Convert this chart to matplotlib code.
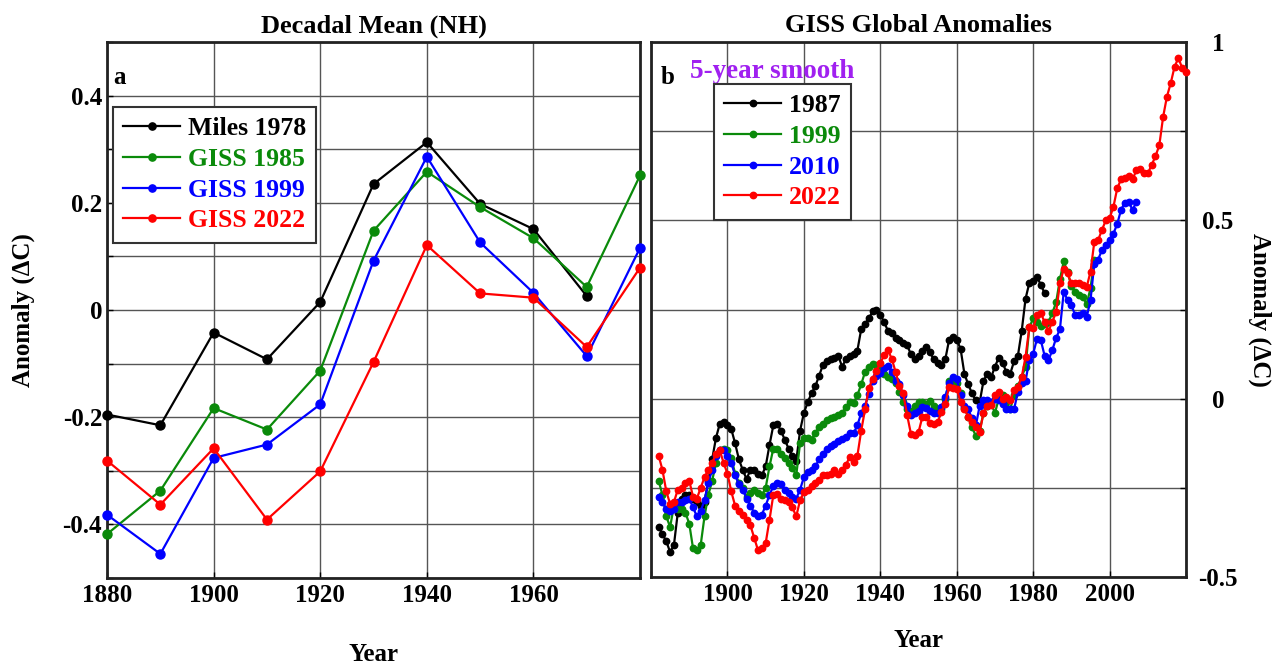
import matplotlib
matplotlib.use("Agg")
import matplotlib.pyplot as plt
from matplotlib.ticker import MultipleLocator
import numpy as np

plt.rcParams['font.family'] = ['Liberation Serif', 'DejaVu Serif']
plt.rcParams['font.weight'] = 'bold'

# panel a: decadal means (NH)
decades = [1880, 1890, 1900, 1910, 1920, 1930, 1940, 1950, 1960, 1970, 1980]
miles_1978 = [-0.195, -0.215, -0.042, -0.092, 0.015, 0.235, 0.313, 0.198, 0.151, 0.026]
giss_1985 = [-0.418, -0.337, -0.183, -0.223, -0.113, 0.148, 0.258, 0.192, 0.134, 0.043, 0.251]
giss_1999 = [-0.382, -0.455, -0.276, -0.251, -0.176, 0.092, 0.286, 0.126, 0.032, -0.086, 0.116]
giss_2022 = [-0.281, -0.363, -0.258, -0.391, -0.301, -0.097, 0.121, 0.031, 0.023, -0.069, 0.079]

# panel b: 5-year smoothed global anomalies, one value per year
start_1987 = 1882
v1987 = [
    -0.36, -0.38, -0.40, -0.43, -0.41, -0.32, -0.28, -0.27,  # 1882-1889
    -0.27, -0.28, -0.29, -0.30, -0.29, -0.23, -0.17, -0.11, -0.07, -0.065,  # 1890s
    -0.075, -0.085, -0.125, -0.17, -0.20, -0.225, -0.20, -0.20, -0.21, -0.215,  # 1900s
    -0.19, -0.13, -0.075, -0.07, -0.09, -0.115, -0.14, -0.16, -0.175, -0.09,  # 1910s
    -0.04, -0.01, 0.015, 0.035, 0.065, 0.095, 0.105, 0.11, 0.115, 0.12,  # 1920s
    0.09, 0.11, 0.12, 0.125, 0.135, 0.195, 0.21, 0.225, 0.245, 0.25,  # 1930s
    0.235, 0.215, 0.19, 0.185, 0.17, 0.165, 0.155, 0.15, 0.125, 0.11,  # 1940s
    0.12, 0.135, 0.145, 0.13, 0.11, 0.10, 0.095, 0.11, 0.165, 0.172,  # 1950s
    0.165, 0.14, 0.07, 0.04, 0.015, -0.005, -0.01, 0.05, 0.07, 0.06,  # 1960s
    0.09, 0.115, 0.10, 0.075, 0.07, 0.105, 0.12, 0.19, 0.28, 0.325,  # 1970s
    0.33, 0.34, 0.32, 0.295,  # 1980-1983
]
start_1999 = 1882
v1999 = [
    -0.23, -0.27, -0.33, -0.36, -0.30, -0.31, -0.31, -0.32,  # 1882-1889
    -0.35, -0.42, -0.425, -0.41, -0.33, -0.27, -0.23, -0.18, -0.145, -0.14,  # 1890s
    -0.145, -0.165, -0.21, -0.235, -0.25, -0.275, -0.265, -0.255, -0.265, -0.27,  # 1900s
    -0.25, -0.19, -0.14, -0.14, -0.155, -0.165, -0.18, -0.195, -0.215, -0.125,  # 1910s
    -0.11, -0.11, -0.115, -0.095, -0.08, -0.07, -0.06, -0.055, -0.05, -0.047,  # 1920s
    -0.04, -0.023, -0.01, -0.012, 0.01, 0.04, 0.075, 0.088, 0.097, 0.095,  # 1930s
    0.085, 0.068, 0.06, 0.055, 0.045, 0.02, -0.01, -0.03, -0.035, -0.02,  # 1940s
    -0.01, -0.01, -0.014, -0.006, -0.02, -0.03, -0.028, 0.0, 0.05, 0.05,  # 1950s
    0.045, 0.015, -0.025, -0.05, -0.08, -0.105, -0.09, -0.04, -0.02, -0.015,  # 1960s
    -0.04, 0.0, 0.01, -0.01, -0.03, 0.01, 0.035, 0.06, 0.09, 0.20,  # 1970s
    0.225, 0.215, 0.205, 0.21, 0.215, 0.24, 0.27, 0.335, 0.385, 0.355,  # 1980s
    0.315, 0.30, 0.29, 0.285, 0.265, 0.31, 0.39,  # 1990-1996
]
start_2010 = 1882
v2010 = [
    -0.275, -0.29, -0.31, -0.315, -0.31, -0.29, -0.29, -0.285,  # 1882-1889
    -0.28, -0.305, -0.33, -0.315, -0.285, -0.235, -0.20, -0.16, -0.145, -0.145,  # 1890s
    -0.16, -0.18, -0.215, -0.24, -0.255, -0.28, -0.30, -0.32, -0.33, -0.325,  # 1900s
    -0.30, -0.27, -0.245, -0.235, -0.24, -0.255, -0.265, -0.275, -0.28, -0.255,  # 1910s
    -0.22, -0.205, -0.20, -0.19, -0.17, -0.155, -0.14, -0.133, -0.126, -0.118,  # 1920s
    -0.113, -0.108, -0.095, -0.097, -0.075, -0.04, -0.02, 0.014, 0.05, 0.065,  # 1930s
    0.073, 0.085, 0.093, 0.075, 0.05, 0.04, 0.01, -0.02, -0.045, -0.04,  # 1940s
    -0.035, -0.023, -0.027, -0.035, -0.04, -0.04, -0.023, 0.005, 0.045, 0.06,  # 1950s
    0.056, 0.01, -0.02, -0.03, -0.055, -0.075, -0.02, -0.005, -0.005, -0.01,  # 1960s
    0.0, -0.005, -0.015, -0.028, -0.028, -0.03, 0.02, 0.045, 0.05, 0.108,  # 1970s
    0.126, 0.168, 0.164, 0.12, 0.108, 0.136, 0.17, 0.195, 0.30, 0.276,  # 1980s
    0.262, 0.234, 0.234, 0.239, 0.229, 0.276, 0.379, 0.39, 0.417, 0.43,  # 1990s
    0.445, 0.463, 0.49, 0.53, 0.55, 0.552, 0.529, 0.552,  # 2000-2007
]
start_2022 = 1882
v2022 = [
    -0.16, -0.20, -0.26, -0.295, -0.29, -0.255, -0.25, -0.235,  # 1882-1889
    -0.23, -0.275, -0.28, -0.25, -0.22, -0.20, -0.18, -0.155, -0.145, -0.18,  # 1890s
    -0.21, -0.26, -0.30, -0.315, -0.325, -0.34, -0.355, -0.39, -0.425, -0.42,  # 1900s
    -0.405, -0.34, -0.27, -0.267, -0.28, -0.285, -0.29, -0.305, -0.33, -0.285,  # 1910s
    -0.262, -0.257, -0.245, -0.235, -0.228, -0.215, -0.215, -0.21, -0.20, -0.21,  # 1920s
    -0.20, -0.185, -0.164, -0.178, -0.16, -0.09, -0.03, 0.03, 0.055, 0.078,  # 1930s
    0.10, 0.122, 0.136, 0.112, 0.075, 0.035, 0.015, -0.045, -0.098, -0.103,  # 1940s
    -0.094, -0.051, -0.051, -0.068, -0.07, -0.066, -0.037, -0.014, 0.033, 0.03,  # 1950s
    0.028, -0.01, -0.03, -0.05, -0.065, -0.08, -0.094, -0.04, -0.02, -0.019,  # 1960s
    0.01, 0.02, 0.0, 0.005, -0.005, 0.023, 0.033, 0.061, 0.117, 0.20,  # 1970s
    0.197, 0.234, 0.239, 0.215, 0.19, 0.215, 0.243, 0.323, 0.365, 0.351,  # 1980s
    0.323, 0.323, 0.323, 0.318, 0.313, 0.356, 0.44, 0.445, 0.473, 0.50,  # 1990s
    0.506, 0.538, 0.59, 0.615, 0.62, 0.625, 0.615, 0.64, 0.645, 0.632,  # 2000s
    0.632, 0.655, 0.68, 0.71, 0.79, 0.847, 0.885, 0.931, 0.955, 0.927,  # 2010s
    0.917,  # 2020
]

colors = {'black': 'black', 'green': '#0a8a0a', 'blue': '#0000ff', 'red': '#ff0000'}
FS = 18
FS_TITLE = 19
FS_LEG = 18.5

fig = plt.figure(figsize=(12.76, 6.67), dpi=100)
axA = fig.add_axes([0.0839, 0.1334, 0.4177, 0.8036])
axB = fig.add_axes([0.5102, 0.1349, 0.4193, 0.8021])

# ---- panel a ----
series_a = [("Miles 1978", miles_1978, colors['black']),
            ("GISS 1985", giss_1985, colors['green']),
            ("GISS 1999", giss_1999, colors['blue']),
            ("GISS 2022", giss_2022, colors['red'])]
for name, vals, c in series_a:
    axA.plot(decades[:len(vals)], vals, '-o', color=c, lw=1.6, ms=6.5,
             label=name, clip_on=False, zorder=3)

axA.set_xlim(1880, 1980)
axA.set_ylim(-0.5, 0.5)
axA.set_xticks([1880, 1900, 1920, 1940, 1960])
axA.set_yticks([-0.4, -0.2, 0, 0.2, 0.4])
axA.set_yticklabels(['-0.4', '-0.2', '0', '0.2', '0.4'])
axA.yaxis.set_minor_locator(MultipleLocator(0.1))
axA.grid(True, which='both', color='#555555', lw=1.0)
axA.set_title("Decadal Mean (NH)", fontsize=FS_TITLE, fontweight='bold', pad=7)
axA.set_xlabel("Year", fontsize=FS, fontweight='bold', labelpad=26)
axA.set_ylabel("Anomaly (\u0394C)", fontsize=FS, fontweight='bold', labelpad=20)
axA.text(0.012, 0.955, "a", transform=axA.transAxes, fontsize=FS,
         fontweight='bold', va='top')
legA = axA.legend(loc='upper left', bbox_to_anchor=(0.0886, 0.8396),
                  bbox_transform=fig.transFigure, fontsize=FS_LEG, fancybox=False,
                  framealpha=1, edgecolor='#333333', handlelength=2.2,
                  handletextpad=0.3, labelspacing=0.3, borderpad=0.4,
                  borderaxespad=0, markerscale=0.8)
legA.get_frame().set_linewidth(1.5)
for t, (_, _, c) in zip(legA.get_texts(), series_a):
    t.set_color(c)

# ---- panel b ----
series_b = [("1987", start_1987, v1987, colors['black']),
            ("1999", start_1999, v1999, colors['green']),
            ("2010", start_2010, v2010, colors['blue']),
            ("2022", start_2022, v2022, colors['red'])]
for name, y0, vals, c in series_b:
    yrs = np.arange(y0, y0 + len(vals))
    axB.plot(yrs, vals, '-o', color=c, lw=1.6, ms=4.6, label=name,
             clip_on=False, zorder=3)

axB.set_xlim(1880, 2020)
axB.set_ylim(-0.5, 1.0)
axB.set_xticks([1900, 1920, 1940, 1960, 1980, 2000])
axB.xaxis.set_minor_locator(MultipleLocator(20))
axB.yaxis.tick_right()
axB.yaxis.set_label_position('right')
axB.set_yticks([-0.5, 0, 0.5, 1.0])
axB.set_yticklabels(['-0.5', '0', '0.5', '1'])
axB.yaxis.set_minor_locator(MultipleLocator(0.25))
axB.grid(True, which='both', color='#555555', lw=1.0)
axB.set_title("GISS Global Anomalies", fontsize=FS_TITLE, fontweight='bold', pad=7)
axB.set_xlabel("Year", fontsize=FS, fontweight='bold', labelpad=17)
axB.set_ylabel("Anomaly (\u0394C)", fontsize=FS, fontweight='bold',
               rotation=270, labelpad=24)
axB.text(0.018, 0.955, "b", transform=axB.transAxes, fontsize=FS,
         fontweight='bold', va='top')
axB.text(0.073, 0.969, "5-year smooth", transform=axB.transAxes,
         fontsize=19.5, fontweight='bold', va='top', color='#a020f0')
legB = axB.legend(loc='upper left', bbox_to_anchor=(0.5596, 0.874),
                  bbox_transform=fig.transFigure, fontsize=FS_LEG, fancybox=False,
                  framealpha=1, edgecolor='#333333', handlelength=2.2,
                  handletextpad=0.3, labelspacing=0.3, borderpad=0.4,
                  borderaxespad=0)
legB.get_frame().set_linewidth(1.5)
for t, (_, _, _, c) in zip(legB.get_texts(), series_b):
    t.set_color(c)

for ax in (axA, axB):
    for s in ax.spines.values():
        s.set_linewidth(2)
        s.set_color('#222222')
    ax.tick_params(which='both', direction='in', length=4, width=1,
                   labelsize=FS)
    ax.tick_params(which='minor', length=4)
    ax.set_axisbelow(True)
    for lab in ax.get_xticklabels() + ax.get_yticklabels():
        lab.set_fontweight('bold')

axA.tick_params(axis='x', pad=4)
axB.tick_params(axis='x', pad=4)
axB.tick_params(axis='y', pad=23)
for lab in axB.get_yticklabels():
    lab.set_horizontalalignment('center')

fig.savefig("out.png", dpi=100)
